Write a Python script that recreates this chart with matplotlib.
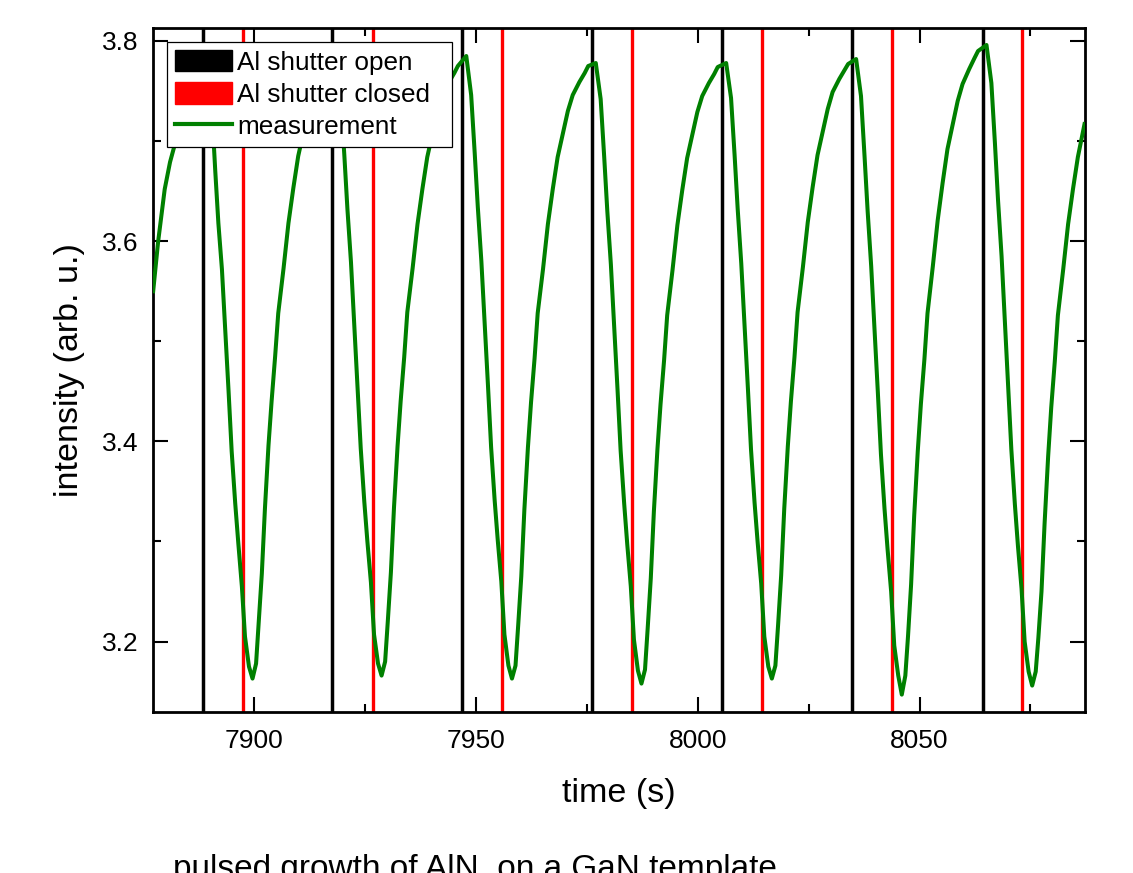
import matplotlib
matplotlib.use("Agg")
import matplotlib.pyplot as plt
from matplotlib.patches import Patch
from matplotlib.lines import Line2D
from matplotlib.ticker import MultipleLocator, FormatStrFormatter

plt.rcParams['font.family'] = ['Liberation Sans', 'DejaVu Sans']

# shutter events (s)
open_times = [7888.4, 7917.5, 7946.9, 7976.1, 8005.5, 8034.8, 8064.2]
closed_times = [7897.5, 7926.7, 7955.9, 7985.2, 8014.5, 8043.8, 8073.1]

time_s = [
    7877.2, 7878.3, 7879.8, 7881.0, 7882.1, 7883.2, 7884.4, 7885.7, 7886.8, 7887.6,
    # cycle 1
    7889.3, 7890.4, 7891.2, 7891.9, 7892.7, 7893.4, 7894.2, 7894.9, 7895.7, 7896.4,
    7897.2, 7897.9, 7898.8, 7899.6, 7900.4, 7901.0, 7901.7, 7902.4, 7903.2, 7903.9,
    7904.7, 7905.4, 7906.6, 7907.7, 7908.8, 7909.9, 7911.1, 7912.2, 7913.3, 7914.8,
    7916.0, 7916.8,
    # cycle 2
    7918.4, 7919.5, 7920.3, 7921.0, 7921.8, 7922.5, 7923.3, 7924.0, 7924.8, 7925.5,
    7926.3, 7927.0, 7927.9, 7928.7, 7929.5, 7930.1, 7930.8, 7931.5, 7932.3, 7933.0,
    7933.8, 7934.5, 7935.7, 7936.8, 7937.9, 7939.0, 7940.2, 7941.3, 7942.4, 7943.9,
    7945.1, 7945.9,
    # cycle 3
    7947.8, 7948.9, 7949.7, 7950.4, 7951.2, 7951.9, 7952.7, 7953.4, 7954.2, 7954.9,
    7955.7, 7956.4, 7957.3, 7958.1, 7958.9, 7959.5, 7960.2, 7960.9, 7961.7, 7962.4,
    7963.2, 7963.9, 7965.1, 7966.2, 7967.3, 7968.4, 7969.6, 7970.7, 7971.8, 7973.3,
    7974.5, 7975.3,
    # cycle 4
    7977.0, 7978.1, 7978.9, 7979.6, 7980.4, 7981.1, 7981.9, 7982.6, 7983.4, 7984.1,
    7984.9, 7985.6, 7986.5, 7987.3, 7988.1, 7988.7, 7989.4, 7990.1, 7990.9, 7991.6,
    7992.4, 7993.1, 7994.3, 7995.4, 7996.5, 7997.6, 7998.8, 7999.9, 8001.0, 8002.5,
    8003.7, 8004.5,
    # cycle 5
    8006.4, 8007.5, 8008.3, 8009.0, 8009.8, 8010.5, 8011.3, 8012.0, 8012.8, 8013.5,
    8014.3, 8015.0, 8015.9, 8016.7, 8017.5, 8018.1, 8018.8, 8019.5, 8020.3, 8021.0,
    8021.8, 8022.5, 8023.7, 8024.8, 8025.9, 8027.0, 8028.2, 8029.3, 8030.4, 8031.9,
    8033.1, 8033.9,
    # cycle 6
    8035.7, 8036.8, 8037.6, 8038.3, 8039.1, 8039.8, 8040.6, 8041.3, 8042.1, 8042.8,
    8043.6, 8044.3, 8045.2, 8046.0, 8046.8, 8047.4, 8048.1, 8048.8, 8049.6, 8050.3,
    8051.1, 8051.8, 8053.0, 8054.1, 8055.2, 8056.3, 8057.5, 8058.6, 8059.7, 8061.2,
    8062.4, 8063.2,
    # cycle 7
    8065.1, 8066.2, 8067.0, 8067.7, 8068.5, 8069.2, 8070.0, 8070.7, 8071.5, 8072.2,
    8073.0, 8073.7, 8074.6, 8075.4, 8076.2, 8076.8, 8077.5, 8078.2, 8079.0, 8079.7,
    8080.5, 8081.2, 8082.4, 8083.5, 8084.6, 8085.7, 8087.2,
]

intensity = [
    3.550, 3.599, 3.652, 3.679, 3.697, 3.720, 3.740, 3.755, 3.766, 3.774,
    # cycle 1
    3.780, 3.735, 3.670, 3.618, 3.572, 3.515, 3.450, 3.390, 3.338, 3.298,
    3.255, 3.205, 3.175, 3.163, 3.178, 3.219, 3.268, 3.333, 3.396, 3.440,
    3.485, 3.528, 3.573, 3.618, 3.653, 3.685, 3.709, 3.731, 3.747, 3.760,
    3.769, 3.776,
    # cycle 2
    3.781, 3.744, 3.686, 3.632, 3.579, 3.520, 3.454, 3.393, 3.340, 3.300,
    3.259, 3.207, 3.178, 3.166, 3.180, 3.220, 3.269, 3.334, 3.395, 3.440,
    3.484, 3.529, 3.573, 3.617, 3.652, 3.684, 3.708, 3.730, 3.746, 3.759,
    3.768, 3.775,
    # cycle 3
    3.785, 3.746, 3.688, 3.634, 3.580, 3.522, 3.455, 3.394, 3.341, 3.301,
    3.260, 3.207, 3.176, 3.163, 3.176, 3.216, 3.265, 3.332, 3.394, 3.439,
    3.483, 3.528, 3.572, 3.617, 3.652, 3.684, 3.708, 3.730, 3.746, 3.759,
    3.768, 3.775,
    # cycle 4
    3.778, 3.742, 3.684, 3.630, 3.577, 3.519, 3.452, 3.391, 3.338, 3.297,
    3.255, 3.202, 3.171, 3.158, 3.172, 3.213, 3.263, 3.330, 3.392, 3.437,
    3.481, 3.526, 3.571, 3.616, 3.651, 3.683, 3.707, 3.729, 3.745, 3.758,
    3.767, 3.774,
    # cycle 5
    3.778, 3.743, 3.686, 3.632, 3.578, 3.520, 3.453, 3.392, 3.339, 3.299,
    3.258, 3.205, 3.175, 3.163, 3.176, 3.216, 3.266, 3.333, 3.395, 3.440,
    3.484, 3.529, 3.574, 3.619, 3.654, 3.686, 3.710, 3.732, 3.749, 3.762,
    3.771, 3.777,
    # cycle 6
    3.782, 3.745, 3.685, 3.630, 3.575, 3.516, 3.449, 3.387, 3.333, 3.292,
    3.250, 3.196, 3.166, 3.147, 3.166, 3.205, 3.257, 3.326, 3.390, 3.437,
    3.482, 3.528, 3.575, 3.621, 3.658, 3.692, 3.717, 3.740, 3.757, 3.772,
    3.783, 3.790,
    # cycle 7
    3.796, 3.758, 3.698, 3.641, 3.585, 3.524, 3.455, 3.392, 3.337, 3.295,
    3.253, 3.200, 3.170, 3.156, 3.170, 3.204, 3.250, 3.318, 3.385, 3.434,
    3.480, 3.526, 3.572, 3.617, 3.652, 3.684, 3.717,
]

x_ticks = [7900, 7950, 8000, 8050]
y_ticks = [3.2, 3.4, 3.6, 3.8]

fig = plt.figure(figsize=(11.33, 8.73), dpi=100)
ax = fig.add_axes([0.1352, 0.1844, 0.8220, 0.7840])

for t in open_times:
    ax.axvline(t, color='black', lw=2.5, zorder=2)
for t in closed_times:
    ax.axvline(t, color='red', lw=2.4, zorder=2)
ax.plot(time_s, intensity, color='green', lw=2.9, zorder=3,
        solid_joinstyle='round')

ax.set_xlim(7877.2, 8087.2)
ax.set_ylim(3.1296, 3.8134)
ax.set_xticks(x_ticks)
ax.set_yticks(y_ticks)
ax.xaxis.set_minor_locator(MultipleLocator(25))
ax.yaxis.set_minor_locator(MultipleLocator(0.1))
ax.yaxis.set_major_formatter(FormatStrFormatter('%.1f'))

ax.tick_params(which='both', direction='in', top=True, right=True, width=1.5)
ax.tick_params(which='major', length=10.5, labelsize=19)
ax.tick_params(which='minor', length=5.5)
ax.tick_params(axis='x', which='major', pad=12)
ax.tick_params(axis='y', which='major', pad=10.5)
for s in ax.spines.values():
    s.set_linewidth(2)

ax.set_xlabel('time (s)', fontsize=24.5, labelpad=18.5)
ax.set_ylabel('intensity (arb. u.)', fontsize=24.5, labelpad=12.5)

handles = [
    Patch(facecolor='black', edgecolor='black'),
    Patch(facecolor='red', edgecolor='red'),
    Line2D([], [], color='green', lw=3),
]
labels = ['Al shutter open', 'Al shutter closed', 'measurement']
leg = ax.legend(handles, labels, loc='upper left',
                bbox_to_anchor=(0.0148, 0.5, 0.306, 0.479), mode='expand',
                borderaxespad=0, fontsize=18.8, handlelength=2.2, handleheight=0.9,
                handletextpad=0.2, borderpad=0.3, labelspacing=0.28,
                fancybox=False, framealpha=1, edgecolor='black')
leg.get_frame().set_linewidth(0.9)
leg.set_zorder(5)

fig.text(0.153, -0.006, 'pulsed growth of AlN  on a GaN template', fontsize=24,
         ha='left', va='baseline')

fig.savefig('out.png', dpi=100)
